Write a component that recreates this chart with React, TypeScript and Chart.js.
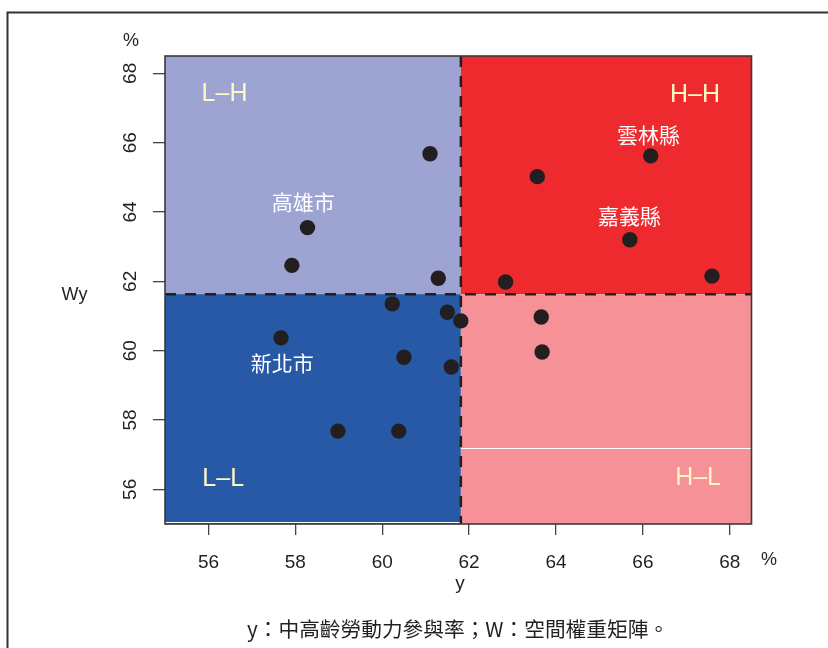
import React, { useEffect, useRef } from "react";
import { Chart, registerables } from "chart.js";

Chart.register(...registerables);

// ---- data ----
const xValues = [61.10, 58.28, 57.92, 61.29, 60.23, 57.67, 61.50, 61.81, 60.50, 61.59, 58.98, 60.38, 66.18, 63.57, 65.70, 62.84, 67.59, 63.66, 63.68];
const wyValues = [65.68, 63.55, 62.46, 62.09, 61.35, 60.37, 61.11, 60.86, 59.81, 59.53, 57.68, 57.68, 65.62, 65.02, 63.20, 61.98, 62.15, 60.97, 59.96];
const tickValues = [56, 58, 60, 62, 64, 66, 68];
const xMean = 61.81;
const yMean = 61.63;
const quadrantNames = ["L–H", "H–H", "L–L", "H–L"];
const quadrantLabelX = [56.37, 67.2, 56.34, 67.27];
const quadrantLabelY = [67.45, 67.42, 56.37, 56.39];
const cityNames = ["高雄市", "雲林縣", "嘉義縣", "新北市"];
const cityLabelX = [58.18, 66.13, 65.69, 57.7];
const cityLabelY = [64.29, 66.21, 63.89, 59.63];
const xTitle = "y";
const yTitle = "Wy";
const unitLabel = "%";
const caption = "y：中高齡勞動力參與率；W：空間權重矩陣。";

const LATIN = '"Liberation Sans", Arial, sans-serif';
const CJK = '"Noto Sans CJK TC", "Noto Sans CJK SC", sans-serif';
const INK = "#231F20";

const quadPlugin = {
  id: "quadPlugin",
  beforeDatasetsDraw(chart: any) {
    const { ctx, chartArea: a, scales } = chart;
    const xs = scales.x;
    const ys = scales.y;
    const xm = xs.getPixelForValue(xMean);
    const ym = ys.getPixelForValue(yMean);
    ctx.save();
    ctx.fillStyle = "#9DA4D2";
    ctx.fillRect(a.left, a.top, xm - a.left, ym - a.top);
    ctx.fillStyle = "#EE2A2F";
    ctx.fillRect(xm, a.top, a.right - xm, ym - a.top);
    ctx.fillStyle = "#2759A7";
    ctx.fillRect(a.left, ym, xm - a.left, a.bottom - ym);
    ctx.fillStyle = "#F59197";
    ctx.fillRect(xm, ym, a.right - xm, a.bottom - ym);
    // thin white lines
    ctx.strokeStyle = "#ffffff";
    ctx.lineWidth = 1;
    const wl = Math.round(ys.getPixelForValue(57.18)) + 0.5;
    ctx.beginPath();
    ctx.moveTo(xm, wl);
    ctx.lineTo(a.right, wl);
    ctx.stroke();
    ctx.beginPath();
    ctx.moveTo(a.left, a.bottom - 1.5);
    ctx.lineTo(xm, a.bottom - 1.5);
    ctx.stroke();
    // dashed mean lines
    ctx.strokeStyle = INK;
    ctx.lineWidth = 2.5;
    ctx.setLineDash([11, 9]);
    ctx.beginPath();
    ctx.moveTo(xm, a.top);
    ctx.lineTo(xm, a.bottom);
    ctx.stroke();
    ctx.beginPath();
    ctx.moveTo(a.left, ym);
    ctx.lineTo(a.right, ym);
    ctx.stroke();
    ctx.restore();
  },
  afterDraw(chart: any) {
    const { ctx, chartArea: a, scales } = chart;
    const xs = scales.x;
    const ys = scales.y;
    ctx.save();
    // plot box
    ctx.strokeStyle = "#3a3a3a";
    ctx.lineWidth = 1.6;
    ctx.strokeRect(a.left, a.top, a.right - a.left, a.bottom - a.top);
    // outer frame
    ctx.strokeStyle = "#333";
    ctx.lineWidth = 2;
    ctx.beginPath();
    ctx.moveTo(7.5, 648);
    ctx.lineTo(7.5, 12.5);
    ctx.lineTo(828, 12.5);
    ctx.stroke();

    // y tick labels (rotated)
    ctx.fillStyle = INK;
    ctx.font = `19px ${LATIN}`;
    ctx.textAlign = "center";
    ctx.textBaseline = "alphabetic";
    for (const v of tickValues) {
      const py = ys.getPixelForValue(v);
      ctx.save();
      ctx.translate(136, py);
      ctx.rotate(-Math.PI / 2);
      ctx.fillText(String(v), 0, 0);
      ctx.restore();
    }
    // units and titles
    ctx.font = `18px ${LATIN}`;
    ctx.fillText(unitLabel, 131, 46);
    ctx.fillText(unitLabel, 769, 565);
    ctx.font = `19px ${LATIN}`;
    ctx.fillText(xTitle, 460, 589);
    ctx.font = `18px ${LATIN}`;
    ctx.fillText(yTitle, 74.5, 300);
    // caption
    ctx.font = `20.7px ${CJK}`;
    ctx.fillText(caption, 458, 637);

    // quadrant labels
    ctx.fillStyle = "#FFF8C6";
    ctx.font = `25px ${LATIN}`;
    quadrantNames.forEach((n, i) => {
      const px = xs.getPixelForValue(quadrantLabelX[i]);
      const py = ys.getPixelForValue(quadrantLabelY[i]);
      ctx.fillText(n, px, py + 9);
    });
    // city labels
    ctx.fillStyle = "#ffffff";
    ctx.font = `21px ${CJK}`;
    ctx.textBaseline = "middle";
    cityNames.forEach((n, i) => {
      const px = xs.getPixelForValue(cityLabelX[i]);
      const py = ys.getPixelForValue(cityLabelY[i]);
      ctx.fillText(n, px, py);
    });
    ctx.restore();
  },
};

export default function App() {
  const ref = useRef<HTMLCanvasElement | null>(null);
  useEffect(() => {
    if (!ref.current) return;
    const chart = new Chart(ref.current, {
      type: "scatter",
      data: {
        datasets: [
          {
            data: xValues.map((v, i) => ({ x: v, y: wyValues[i] })),
            pointRadius: 7.7,
            pointHoverRadius: 7.7,
            backgroundColor: INK,
            borderWidth: 0,
          },
        ],
      },
      options: {
        responsive: false,
        animation: false,
        events: [],
        layout: { padding: { left: 0, top: 56, right: 76.5, bottom: 0 } },
        plugins: { legend: { display: false }, tooltip: { enabled: false } },
        scales: {
          x: {
            type: "linear",
            position: "bottom",
            min: 55,
            max: 68.5,
            afterBuildTicks: (s: any) => {
              s.ticks = tickValues.map((v) => ({ value: v }));
            },
            afterFit: (s: any) => {
              s.height = 124;
            },
            grid: { drawOnChartArea: false, drawTicks: true, tickLength: 11, color: "#444", lineWidth: 1.3 },
            border: { display: false },
            ticks: {
              font: { family: LATIN, size: 19 },
              color: INK,
              padding: 16,
              maxRotation: 0,
              autoSkip: false,
            },
          },
          y: {
            type: "linear",
            position: "left",
            min: 55,
            max: 68.5,
            afterBuildTicks: (s: any) => {
              s.ticks = tickValues.map((v) => ({ value: v }));
            },
            afterFit: (s: any) => {
              s.width = 165;
            },
            grid: { drawOnChartArea: false, drawTicks: true, tickLength: 12, color: "#444", lineWidth: 1.3 },
            border: { display: false },
            ticks: { display: false },
          },
        },
      },
      plugins: [quadPlugin],
    } as any);
    return () => chart.destroy();
  }, []);
  return (
    <div style={{ position: "absolute", left: 0, top: 0, width: 828, height: 648, background: "#fff" }}>
      <canvas ref={ref} width={828} height={648} style={{ display: "block" }} />
    </div>
  );
}
